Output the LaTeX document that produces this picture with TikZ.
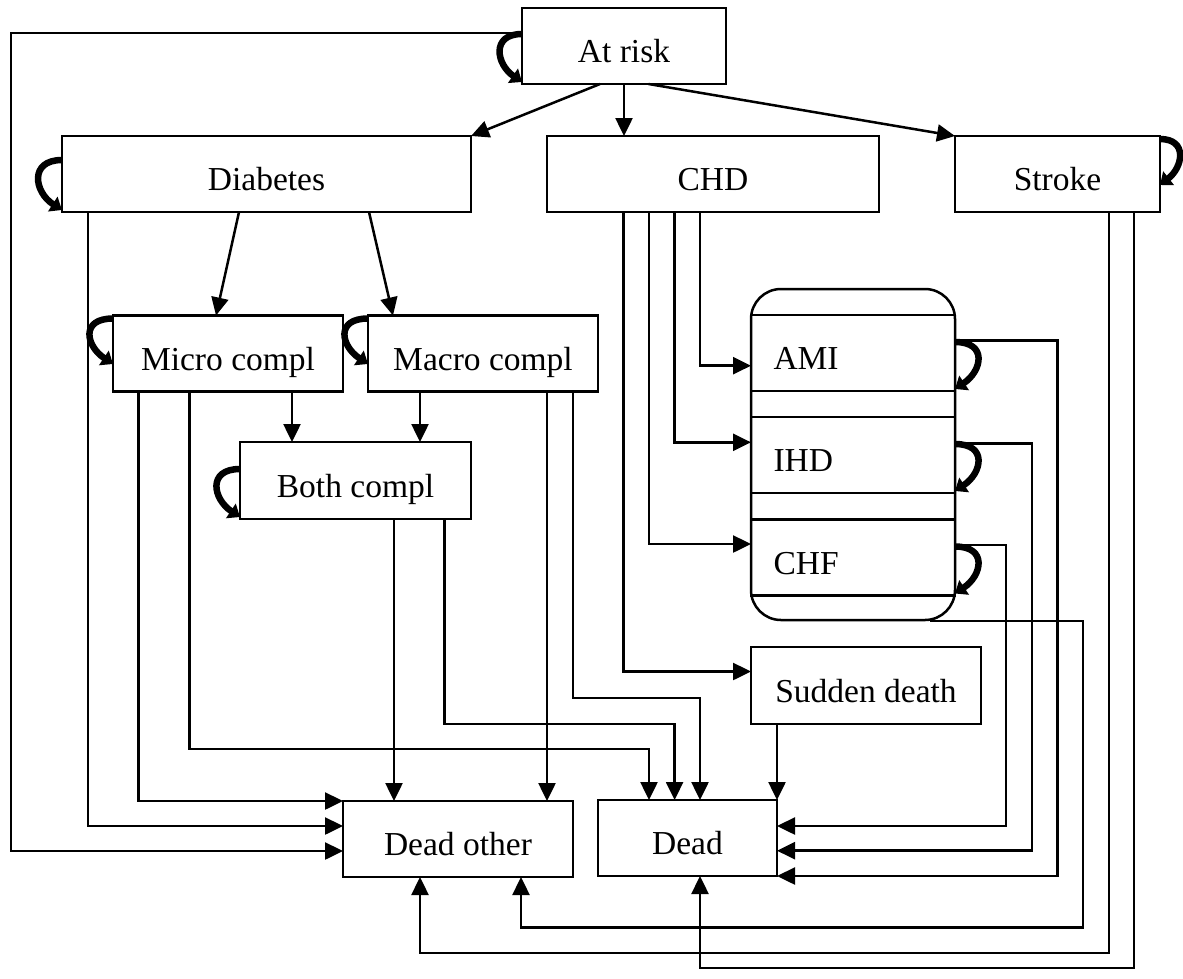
\documentclass[tikz,border=0pt]{standalone}
\usepackage{fontspec}
\setmainfont{Liberation Serif}
\usetikzlibrary{arrows.meta,calc}
\begin{document}
\begin{tikzpicture}[x=1pt,y=-1pt,line width=2.5pt,
  box/.style={draw,rectangle,minimum height=76pt,text height=33pt,text depth=0pt,inner sep=0pt,outer sep=0pt,font=\fontsize{33.5}{40}\selectfont},
  sub/.style={box,minimum width=204pt,text width=159pt,align=left,inner xsep=22.5pt},
  arr/.style={-{Triangle[length=18pt,width=17pt]}},
  selfloop/.style={line width=6.5pt,-{Triangle[length=11pt,width=17pt]}},
]
\useasboundingbox (0,0) rectangle (1183,978);
% nodes
\node[box,minimum width=204pt] (atrisk) at (624,46) {At risk};
\node[box,minimum width=409pt] (diab) at (266.5,174) {Diabetes};
\node[box,minimum width=332pt] (chd) at (713,174) {CHD};
\node[box,minimum width=205pt] (stroke) at (1057.5,174) {Stroke};
\node[box,minimum width=230pt] (micro) at (228,353.5) {Micro compl};
\node[box,minimum width=230pt] (macro) at (483,353.5) {Macro compl};
\node[box,minimum width=231pt,minimum height=77pt] (both) at (355.5,480.5) {Both compl};
\node[draw,rounded corners=30pt,minimum width=204pt,minimum height=331pt,inner sep=0pt,outer sep=0pt] (grp) at (853,454.5) {};
\node[sub] (ami) at (853,353) {AMI};
\node[sub] (ihd) at (853,455) {IHD};
\node[sub] (chf) at (853,557.5) {CHF};
\node[box,minimum width=230pt,minimum height=77pt] (sudden) at (866,685.5) {Sudden death};
\node[box,minimum width=230pt] (deadother) at (458,839) {Dead other};
\node[box,minimum width=179pt] (dead) at (687.5,838) {Dead};
% connectors from At risk
\draw[arr] ($(atrisk.south)+(-24,0)$) -- (diab.north east);
\draw[arr] (atrisk.south) -- (atrisk.south |- chd.north);
\draw[arr] ($(atrisk.south)+(24.5,0)$) -- (stroke.north west);
\draw[arr] ($(atrisk.west)+(0,-13)$) -| (11,851) -- ($(deadother.west)+(0,12)$);
% Diabetes
\draw[arr] ($(diab.south west)+(177,0)$) -- ($(micro.north)+(-12,0)$);
\draw[arr] ($(diab.south west)+(307,0)$) -- ($(macro.north)+(-90,0)$);
\draw[arr] ($(diab.south west)+(26,0)$) |- ($(deadother.west)+(0,-13)$);
% Micro
\draw[arr] ($(micro.south west)+(25.5,0)$) |- ($(deadother.west)+(0,-38)$);
\draw[arr] ($(micro.south west)+(76.4,0)$) |- (649,749) -- ($(dead.north west)+(51,0)$);
\draw[arr] ($(micro.south west)+(179,0)$) -- ($(both.north west)+(52,0)$);
% Macro
\draw[arr] ($(macro.south west)+(52,0)$) -- ($(both.north west)+(180,0)$);
\draw[arr] ($(macro.south west)+(179,0)$) -- ($(deadother.north west)+(204,0)$);
\draw[arr] ($(macro.south west)+(205,0)$) |- (700,698) -- ($(dead.north west)+(102,0)$);
% Both
\draw[arr] ($(both.south west)+(154,0)$) -- ($(deadother.north west)+(51,0)$);
\draw[arr] ($(both.south west)+(204.7,0)$) |- (674.6,724) -- ($(dead.north west)+(76.6,0)$);
% CHD
\draw[arr] ($(chd.south west)+(76.5,0)$) |- ($(sudden.west)+(0,-14)$);
\draw[arr] ($(chd.south west)+(102,0)$) |- ($(chf.west)+(0,-13.5)$);
\draw[arr] ($(chd.south west)+(127.6,0)$) |- ($(ihd.west)+(0,-12.7)$);
\draw[arr] ($(chd.south west)+(153,0)$) |- ($(ami.west)+(0,12.7)$);
% AMI / IHD / CHF to Dead
\draw[arr] ($(ami.east)+(0,-12.3)$) -| (1057.7,876) -- (dead.south east);
\draw[arr] ($(ihd.east)+(0,-11.7)$) -| (1032,850.7) -- ($(dead.east)+(0,12.7)$);
\draw[arr] ($(chf.east)+(0,-12.5)$) -| (1006,826) -- ($(dead.east)+(0,-12)$);
% group to Dead other
\draw[arr] ($(grp.south east)+(-25,1)$) -| (1083,927.7) -| ($(deadother.south)+(63,0)$);
% Stroke
\draw[arr] ($(stroke.south west)+(153.8,0)$) |- (420,953) -- ($(deadother.south)+(-38,0)$);
\draw[arr] ($(stroke.south west)+(178.8,0)$) |- (700,968) -- ($(dead.south)+(12.5,0)$);
% Sudden death
\draw[arr] ($(sudden.south west)+(26,0)$) -- (dead.north east);
% self loops
\draw[selfloop] ($(atrisk.west)+(0,-12)$) .. controls +(-31,0) and +(-26,-18) .. ($(atrisk.south west)+(0,-2)$);
\draw[selfloop] ($(diab.west)+(0,-14)$) .. controls +(-33,0) and +(-28,-18) .. ($(diab.south west)+(0,-2)$);
\draw[selfloop] ($(micro.north west)+(0,3)$) .. controls +(-33,0) and +(-27,-18) .. ($(micro.west)+(0,10.5)$);
\draw[selfloop] ($(macro.north west)+(0,3)$) .. controls +(-33,0) and +(-27,-18) .. ($(macro.west)+(0,10.5)$);
\draw[selfloop] ($(both.north west)+(0,27)$) .. controls +(-33,0) and +(-27,-18) .. ($(both.south west)+(0,-2)$);
\draw[selfloop] ($(stroke.north east)+(0,3)$) .. controls +(28,0) and +(23,-18) .. ($(stroke.east)+(0,11)$);
\draw[selfloop] ($(ami.east)+(0,-11)$) .. controls +(33,0) and +(27,-18) .. ($(ami.south east)+(0,-2)$);
\draw[selfloop] ($(ihd.east)+(0,-11)$) .. controls +(33,0) and +(27,-18) .. ($(ihd.south east)+(0,-2)$);
\draw[selfloop] ($(chf.east)+(0,-11)$) .. controls +(33,0) and +(27,-18) .. ($(chf.south east)+(0,-2)$);
\end{tikzpicture}
\end{document}
